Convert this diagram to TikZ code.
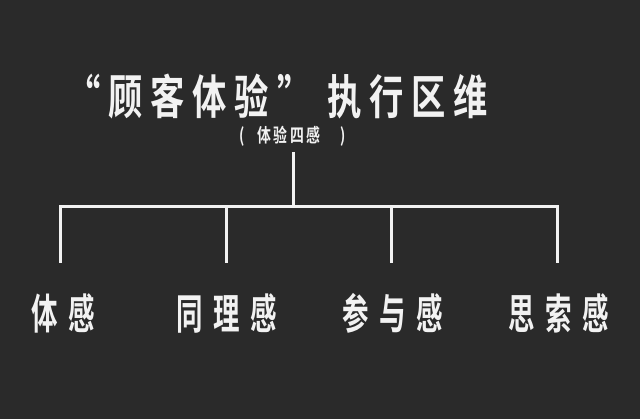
\documentclass[tikz,border=0pt]{standalone}
\usepackage{fontspec}
\newfontfamily\cjk{Noto Sans CJK SC}[BoldFont={* Bold}]
\definecolor{bg}{HTML}{2A2A2A}
\definecolor{ink}{HTML}{F2F2F2}
\tikzset{
  conn/.style={draw=ink, line width=3pt},
  titletext/.style={text=ink, inner sep=0pt, font=\cjk\bfseries\fontsize{47}{50}\selectfont},
  subtext/.style={text=ink, inner sep=0pt, font=\cjk\bfseries\fontsize{19}{22}\selectfont},
  leaftext/.style={text=ink, inner sep=0pt, font=\cjk\bfseries\fontsize{42}{46}\selectfont},
}
\begin{document}
\begin{tikzpicture}[x=1pt, y=-1pt]
\fill[bg] (0,0) rectangle (640,419);
\useasboundingbox (0,0) rectangle (640,419);
\node[titletext] (title) at (277,97) {\scalebox{0.73}[1]{\addfontfeature{LetterSpace=23}“顾客体验” 执行区维}};
\node[subtext, anchor=west] (sub) at (239,136) {\scalebox{0.73}[1]{\addfontfeature{LetterSpace=17}(\hspace{18pt}体验四感\hspace{28pt})}};
\coordinate (top) at (293,152);
\coordinate (hub) at (293,207);
\coordinate (b1) at (60,207);
\coordinate (b2) at (226,207);
\coordinate (b3) at (391,207);
\coordinate (b4) at (557,207);
\coordinate (e1) at (60,263);
\coordinate (e2) at (226,263);
\coordinate (e3) at (391,263);
\coordinate (e4) at (557,263);
\node[leaftext] (l1) at (63,313) {\scalebox{0.63}[1]{\addfontfeature{LetterSpace=40}体感}};
\node[leaftext] (l2) at (227,313) {\scalebox{0.63}[1]{\addfontfeature{LetterSpace=40}同理感}};
\node[leaftext] (l3) at (393,313) {\scalebox{0.63}[1]{\addfontfeature{LetterSpace=40}参与感}};
\node[leaftext] (l4) at (559,313) {\scalebox{0.63}[1]{\addfontfeature{LetterSpace=40}思索感}};
\draw[conn] (top) -- (hub);
\draw[conn, line cap=rect] (b1) -- (b4);
\draw[conn] (b1) -- (e1);
\draw[conn] (b2) -- (e2);
\draw[conn] (b3) -- (e3);
\draw[conn] (b4) -- (e4);
\end{tikzpicture}
\end{document}
